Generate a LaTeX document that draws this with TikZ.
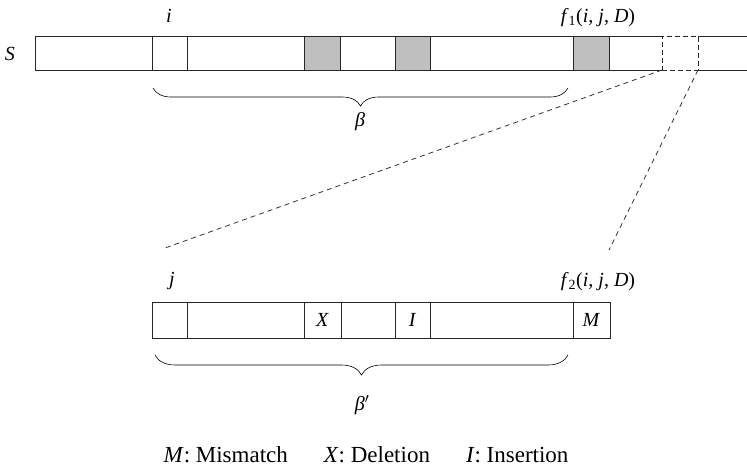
\documentclass[tikz,border=0pt]{standalone}
\usepackage{fontspec}
\setmainfont{Liberation Serif}
\usetikzlibrary{positioning,decorations.pathreplacing}
\newcommand{\vv}[1]{\textit{#1}}

\begin{document}
\begin{tikzpicture}[
  x=1pt, y=-1pt, font=\fontsize{20}{24}\selectfont,
  seq/.style={draw=black!85, line width=0.8pt},
  hit/.style={fill=black!25},
  cell/.style={seq, minimum height=36pt, inner sep=0pt, outer sep=0pt},
  win/.style={draw=black!85, line width=0.8pt, dash pattern=on 5pt off 3pt,
              minimum width=36pt, minimum height=34pt, inner sep=0pt, outer sep=0pt},
  zoomline/.style={draw=black!80, line width=0.8pt, dash pattern=on 5pt off 4pt},
  span/.style={decorate, decoration={brace, mirror, amplitude=#1}, line width=0.6pt},
  lbl/.style={anchor=base},
]
\useasboundingbox (0,0) rectangle (747,471);

% ---------- Sequence S (top) ----------
\foreach \a/\b in {304/340,395/430,573/609}{\fill[hit] (\a,36) rectangle (\b,70);}
\node[win] (w) at (680,53) {};
\draw[seq] (w.north west) -- (35,36) -- (35,70) -- (w.south west);
\draw[seq] (w.north east) -- (747,36) (w.south east) -- (747,70);
\foreach \x in {152,187,304,340,395,430,573,609}{\draw[seq] (\x,36) -- (\x,70);}

\node[lbl] (Slbl) at (10,60) {\vv{S}};
\node[lbl] (ilbl) at (169,22) {\vv{i}};
\node[lbl] (f1lbl) at (598,22) {\vv{f}\textsubscript{1}(\vv{i}, \vv{j}, \vv{D})};

\draw[span=18pt] (153,88) -- (568,88);
\node (beta) at (360,122) {\vv{β}};

% zoom from the window down to the aligned read
\coordinate (zl) at (165,248);
\coordinate (zr) at (609,250);
\draw[zoomline] (w.south west) -- (zl);
\draw[zoomline] (w.south east) -- (zr);

% ---------- Aligned read (bottom) ----------
\node[cell, minimum width=35pt, anchor=north west] (c1) at (152,302) {};
\node[cell, minimum width=117pt, right=0pt of c1] (c2) {};
\node[cell, minimum width=37pt, right=0pt of c2] (cx) {\vv{X}};
\node[cell, minimum width=54pt, right=0pt of cx] (c4) {};
\node[cell, minimum width=35pt, right=0pt of c4] (ci) {\vv{I}};
\node[cell, minimum width=143pt, right=0pt of ci] (c6) {};
\node[cell, minimum width=37pt, right=0pt of c6] (cm) {\vv{M}};

\node[lbl] (jlbl) at (172,285) {\vv{j}};
\node[lbl] (f2lbl) at (598,286) {\vv{f}\textsubscript{2}(\vv{i}, \vv{j}, \vv{D})};

\draw[span=20pt] (155,355) -- (568,355);
\node (betap) at (362,405) {\vv{β}$'$};

% legend
\node[lbl, font=\fontsize{23}{27}\selectfont] (key) at (366,462)
  {\vv{M}: Mismatch\hspace{36pt}\vv{X}: Deletion\hspace{36pt}\vv{I}: Insertion};
\end{tikzpicture}
\end{document}
